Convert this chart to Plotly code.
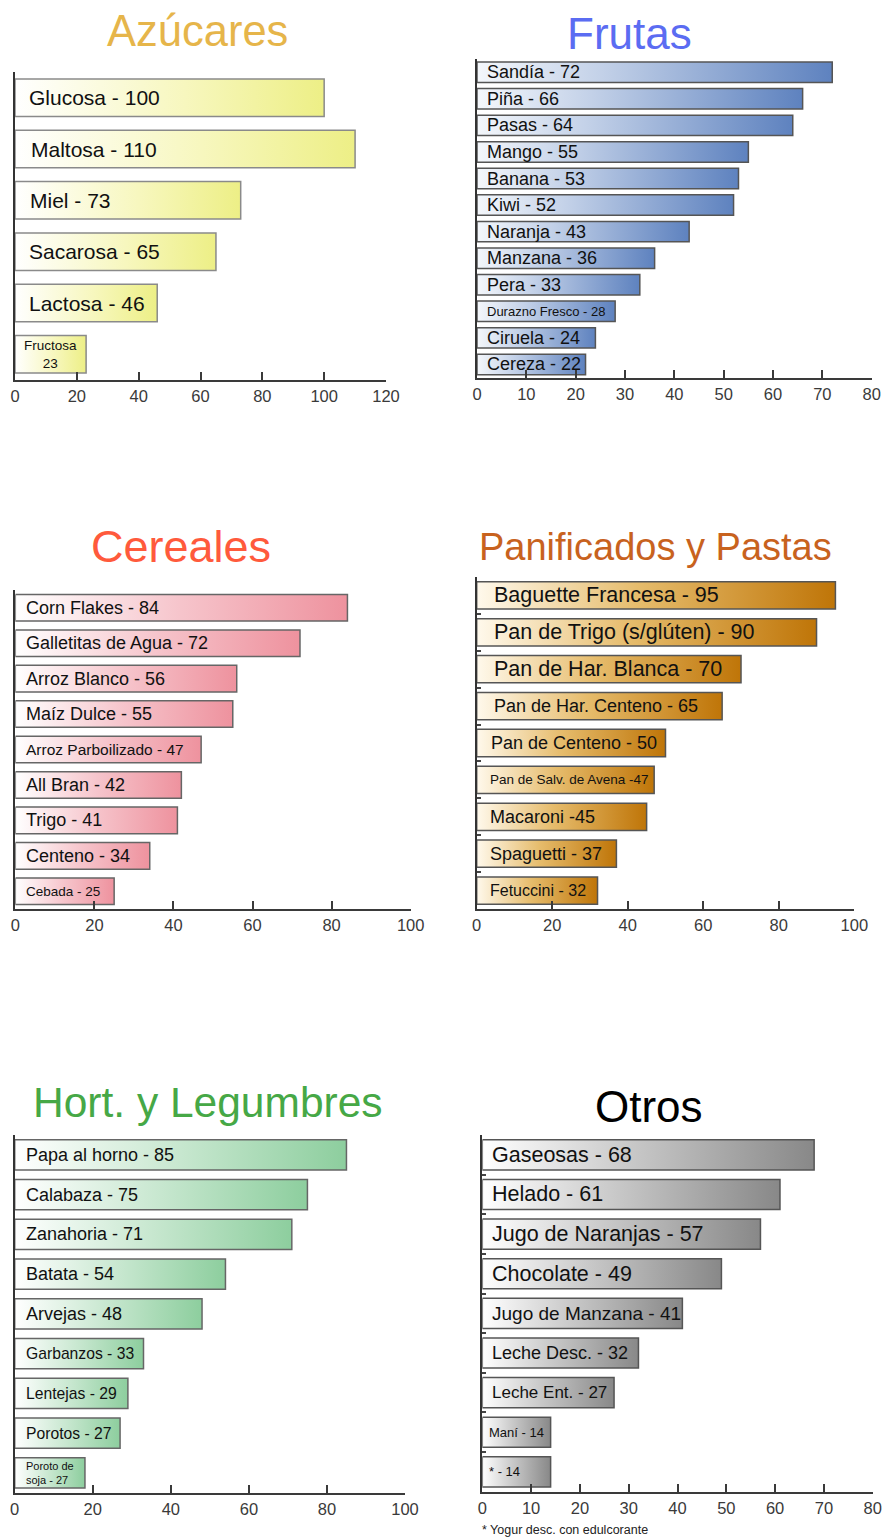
import plotly.graph_objects as go

# ---------------- DATA ----------------
azucares_labels = ["Glucosa - 100", "Maltosa - 110", "Miel - 73", "Sacarosa - 65", "Lactosa - 46", "Fructosa<br>23"]
azucares_values = [100, 110, 73, 65, 46, 23]

frutas_labels = ["Sandía - 72", "Piña - 66", "Pasas - 64", "Mango - 55", "Banana - 53", "Kiwi - 52",
                 "Naranja - 43", "Manzana - 36", "Pera - 33", "Durazno Fresco - 28", "Ciruela - 24", "Cereza - 22"]
frutas_values = [72, 66, 64, 55, 53, 52, 43, 36, 33, 28, 24, 22]

cereales_labels = ["Corn Flakes - 84", "Galletitas de Agua - 72", "Arroz Blanco - 56", "Maíz Dulce - 55",
                   "Arroz Parboilizado - 47", "All Bran - 42", "Trigo - 41", "Centeno - 34", "Cebada - 25"]
cereales_values = [84, 72, 56, 55, 47, 42, 41, 34, 25]

panificados_labels = ["Baguette Francesa - 95", "Pan de Trigo (s/glúten) - 90", "Pan de Har. Blanca - 70",
                      "Pan de Har. Centeno - 65", "Pan de Centeno - 50", "Pan de Salv. de Avena -47",
                      "Macaroni -45", "Spaguetti - 37", "Fetuccini - 32"]
panificados_values = [95, 90, 70, 65, 50, 47, 45, 37, 32]

hortalizas_labels = ["Papa al horno - 85", "Calabaza - 75", "Zanahoria - 71", "Batata - 54", "Arvejas - 48",
                     "Garbanzos - 33", "Lentejas - 29", "Porotos - 27", "Poroto de<br>soja - 27"]
hortalizas_values = [85, 75, 71, 54, 48, 33, 29, 27, 18]

otros_labels = ["Gaseosas - 68", "Helado - 61", "Jugo de Naranjas - 57", "Chocolate - 49", "Jugo de Manzana - 41",
                "Leche Desc. - 32", "Leche Ent. - 27", "Maní - 14", "* - 14"]
otros_values = [68, 61, 57, 49, 41, 32, 27, 14, 14]

panel_titles = ["Azúcares", "Frutas", "Cereales", "Panificados y Pastas", "Hort. y Legumbres", "Otros"]
axis_max = [120, 80, 100, 100, 100, 80]
axis_step = [20, 10, 20, 20, 20, 10]
footnote = "* Yogur desc. con edulcorante"

# ---------------- STYLE ----------------
W, H = 886, 1537
FONT = "Liberation Sans, Arial, Helvetica, sans-serif"

panels = [
    dict(labels=azucares_labels, values=azucares_values,
         px_x=(15, 386), px_y=(72, 380), barw=0.73,
         scale=[[0, "#FFFFFF"], [0.55, "#F7F7BE"], [1, "#EDEF86"]], edge="#8a8a8a",
         title_color="#E6B54A", title_size=43.5, title_pos=(197.5, 31),
         fs=[21, 21, 21, 21, 21, 13.5], off=[12, 14, 13, 12, 12, None]),
    dict(labels=frutas_labels, values=frutas_values,
         px_x=(477, 871.7), px_y=(59, 377.7), barw=0.77,
         scale=[[0, "#F4F7FB"], [0.35, "#C3D1E8"], [1, "#5E82BF"]], edge="#555555",
         title_color="#5B6CF2", title_size=44, title_pos=(629, 33),
         fs=[18] * 9 + [13, 18, 18], off=[8] * 12),
    dict(labels=cereales_labels, values=cereales_values,
         px_x=(15.3, 410.7), px_y=(590, 909), barw=0.75,
         scale=[[0, "#FFFFFF"], [0.5, "#F6C4CB"], [1, "#EE929E"]], edge="#666666",
         title_color="#FF5A3C", title_size=45, title_pos=(181, 546),
         fs=[18, 18, 18, 18, 15.5, 18, 18, 18, 13.5], off=[9] * 9),
    dict(labels=panificados_labels, values=panificados_values,
         px_x=(476.7, 854.3), px_y=(577, 909), barw=0.74,
         scale=[[0, "#FFF9EC"], [0.45, "#E6BC6C"], [1, "#BF7508"]], edge="#555555",
         title_color="#C8621E", title_size=38, title_pos=(655.5, 547),
         fs=[21.5, 21.5, 21.5, 18, 18, 13.5, 18, 18, 16], off=[15, 15, 15, 15, 12, 11, 11, 11, 11]),
    dict(labels=hortalizas_labels, values=hortalizas_values,
         px_x=(14.7, 405), px_y=(1135, 1492.7), barw=0.76,
         scale=[[0, "#FFFFFF"], [0.5, "#C7E7CF"], [1, "#8DCE9E"]], edge="#666666",
         title_color="#46A846", title_size=42.5, title_pos=(207.5, 1102),
         fs=[18, 18, 18, 18, 18, 15.7, 15.7, 15.7, 11], off=[9] * 9),
    dict(labels=otros_labels, values=otros_values,
         px_x=(482.3, 872.7), px_y=(1135, 1491.7), barw=0.76,
         scale=[[0, "#FFFFFF"], [0.45, "#C8C8C8"], [1, "#888888"]], edge="#555555",
         title_color="#000000", title_size=44, title_pos=(649, 1106),
         fs=[21.5, 21.5, 21.5, 21.5, 19, 18, 17, 13, 13], off=[8, 8, 8, 8, 8, 8, 8, 5, 5]),
]

fig = go.Figure()
annotations = []
layout_axes = {}

for k, p in enumerate(panels):
    n = len(p["values"])
    xa = "x" if k == 0 else f"x{k+1}"
    ya = "y" if k == 0 else f"y{k+1}"
    xkey = "xaxis" if k == 0 else f"xaxis{k+1}"
    ykey = "yaxis" if k == 0 else f"yaxis{k+1}"
    hw = p["barw"] / 2
    for i, (lab, v) in enumerate(zip(p["labels"], p["values"])):
        fig.add_trace(go.Scatter(
            x=[0, v, v, 0, 0], y=[i - hw, i - hw, i + hw, i + hw, i - hw],
            xaxis=xa, yaxis=ya, mode="lines", fill="toself",
            fillgradient=dict(type="horizontal", colorscale=p["scale"]),
            line=dict(color=p["edge"], width=1.5),
            name=lab.replace("<br>", " "), hoverinfo="name", showlegend=False,
        ))
        if p["off"][i] is None:
            annotations.append(dict(x=v / 2, y=i, xref=xa, yref=ya, text=lab, showarrow=False,
                                    xanchor="center", yanchor="middle", align="center",
                                    font=dict(family=FONT, size=p["fs"][i], color="#111111")))
        else:
            annotations.append(dict(x=0, y=i, xref=xa, yref=ya, text=lab, showarrow=False,
                                    xanchor="left", yanchor="middle", align="left", xshift=p["off"][i],
                                    font=dict(family=FONT, size=p["fs"][i], color="#111111")))
    x0, x1 = p["px_x"]
    y0, y1 = p["px_y"]
    layout_axes[xkey] = dict(
        domain=[x0 / W, x1 / W], anchor=ya, range=[0, axis_max[k]],
        tickvals=list(range(0, axis_max[k] + 1, axis_step[k])),
        showline=True, linecolor="#3a3a3a", linewidth=2, ticks="inside", ticklen=8, tickwidth=2,
        tickcolor="#3a3a3a", showgrid=False, zeroline=False, automargin=False,
        tickfont=dict(family=FONT, size=16.5, color="#3a3a3a"), fixedrange=True,
    )
    ydict = dict(
        domain=[1 - y1 / H, 1 - y0 / H], anchor=xa, range=[n - 0.5, -0.5],
        showline=True, linecolor="#333333", linewidth=2, showgrid=False, zeroline=False,
        showticklabels=False, fixedrange=True, automargin=False,
    )
    if k in (3, 5):
        ydict.update(tickvals=[i + 0.5 for i in range(n - 1)], ticks="inside", ticklen=4,
                     tickwidth=1.5, tickcolor="#444444")
    else:
        ydict.update(ticks="")
    layout_axes[ykey] = ydict
    tx, ty = p["title_pos"]
    annotations.append(dict(x=tx / W, y=1 - ty / H, xref="paper", yref="paper", text=panel_titles[k],
                            showarrow=False, xanchor="center", yanchor="middle",
                            font=dict(family=FONT, size=p["title_size"], color=p["title_color"])))

annotations.append(dict(x=480 / W, y=1 - 1530 / H, xref="paper", yref="paper", text=footnote,
                        showarrow=False, xanchor="left", yanchor="middle",
                        font=dict(family=FONT, size=12.5, color="#222222")))

fig.update_layout(
    width=W, height=H, margin=dict(l=0, r=0, t=0, b=0, autoexpand=False),
    paper_bgcolor="white", plot_bgcolor="white", showlegend=False,
    annotations=annotations, **layout_axes,
)

fig.write_html(
    "out.html",
    config={"displayModeBar": False},
    post_script="document.body.style.margin='0';document.documentElement.style.overflow='hidden';",
)
